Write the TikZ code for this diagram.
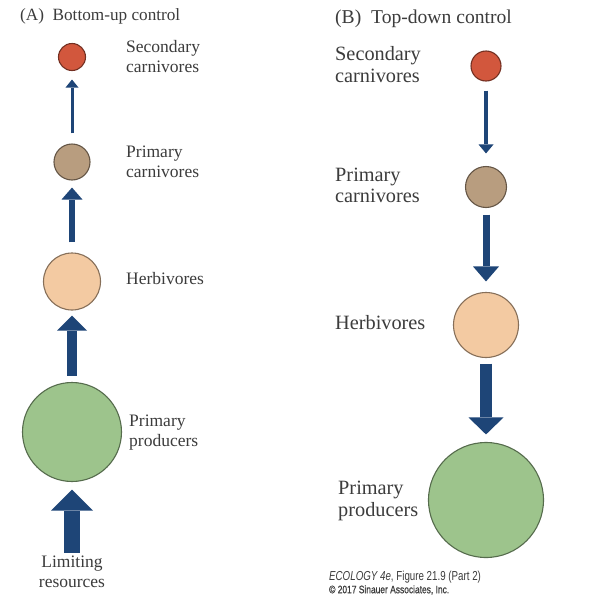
\documentclass[tikz,border=0pt]{standalone}
\usepackage{fontspec}
\setmainfont{Liberation Serif}
\newfontfamily\creditfont[FakeStretch=0.75]{Liberation Sans}
\newfontfamily\copyfont[FakeStretch=0.78,FakeBold=0.6]{Liberation Sans}
\usepackage{xcolor}
\usetikzlibrary{arrows.meta}
\definecolor{flowblue}{HTML}{1E4577}
\definecolor{secred}{HTML}{D2573D}
\definecolor{carnbrown}{HTML}{B89D7F}
\definecolor{herbpeach}{HTML}{F3CAA2}
\definecolor{prodgreen}{HTML}{9DC48C}
\definecolor{labgray}{HTML}{3C3C3C}
\begin{document}
\begin{tikzpicture}[x=1pt,y=-1pt,
  level/.style={circle,draw=#1!55!black,fill=#1,line width=1.1pt,inner sep=0pt},
  flow/.style n args={3}{draw=flowblue,line width=#1,
    -{Triangle[width=#2,length=#3,line width=0pt,fill=flowblue]}},
  laba/.style={anchor=west,align=left,inner sep=0pt,text=labgray,
    font=\fontsize{17.5}{20}\selectfont},
  labb/.style={anchor=west,align=left,inner sep=0pt,text=labgray,
    font=\fontsize{20.3}{21.5}\selectfont}]
\useasboundingbox[fill=white] (0,0) rectangle (598,600);

% (A) bottom-up control
\node[laba,font=\fontsize{17.2}{20}\selectfont] (ta) at (20,16) {(A)~ Bottom-up control};
\node[level=secred,minimum size=27pt] (sa) at (72,57) {};
\node[level=carnbrown,minimum size=36pt] (pa) at (72,162) {};
\node[level=herbpeach,minimum size=57pt] (ha) at (72,281.5) {};
\node[level=prodgreen,minimum size=99pt] (ga) at (72,432) {};
\node[laba,anchor=center,align=center] (lim) at (72,572) {Limiting\\resources};
\node[laba] (lsa) at (126,57) {Secondary\\carnivores};
\node[laba] (lpa) at (126,161.5) {Primary\\carnivores};
\node[laba] (lha) at (126,279) {Herbivores};
\node[laba] (lga) at (129,432.5) {Primary\\producers};
\draw[flow={3pt}{13pt}{8pt},shorten <=10pt,shorten >=8.5pt] (pa) -- (sa);
\draw[flow={6pt}{21pt}{12pt},shorten <=10pt,shorten >=7pt] (ha) -- (pa);
\draw[flow={10pt}{30pt}{15pt},shorten <=6pt,shorten >=5pt] (ga) -- (ha);
\draw[flow={16pt}{42pt}{21pt},shorten <=3pt,shorten >=7.5pt] (lim) -- (ga);

% (B) top-down control
\node[labb,font=\fontsize{19.6}{21}\selectfont] (tb) at (335,19) {(B)~ Top-down control};
\node[level=secred,minimum size=30pt] (sb) at (486,66) {};
\node[level=carnbrown,minimum size=41pt] (pb) at (486,187) {};
\node[level=herbpeach,minimum size=65pt] (hb) at (486,325) {};
\node[level=prodgreen,minimum size=115pt] (gb) at (486,500) {};
\node[labb] (lsb) at (335,64.5) {Secondary\\carnivores};
\node[labb] (lpb) at (335,185.5) {Primary\\carnivores};
\node[labb] (lhb) at (335,323) {Herbivores};
\node[labb] (lgb) at (338,501) {Primary\\producers};
\draw[flow={3.5pt}{15pt}{9pt},shorten <=9pt,shorten >=12.5pt] (sb) -- (pb);
\draw[flow={7pt}{26pt}{15pt},shorten <=6.5pt,shorten >=10.5pt] (pb) -- (hb);
\draw[flow={12pt}{35pt}{17pt},shorten <=5.5pt,shorten >=7.5pt] (hb) -- (gb);

% credit line
\node[anchor=west,inner sep=0pt,text=labgray,font=\creditfont\fontsize{13}{14}\selectfont]
  (cr) at (329,577) {{\itshape ECOLOGY 4e}, Figure 21.9 (Part 2)};
\node[anchor=west,inner sep=0pt,text=labgray,font=\copyfont\fontsize{10.8}{12}\selectfont]
  (cp) at (329,590) {© 2017 Sinauer Associates, Inc.};
\end{tikzpicture}
\end{document}
